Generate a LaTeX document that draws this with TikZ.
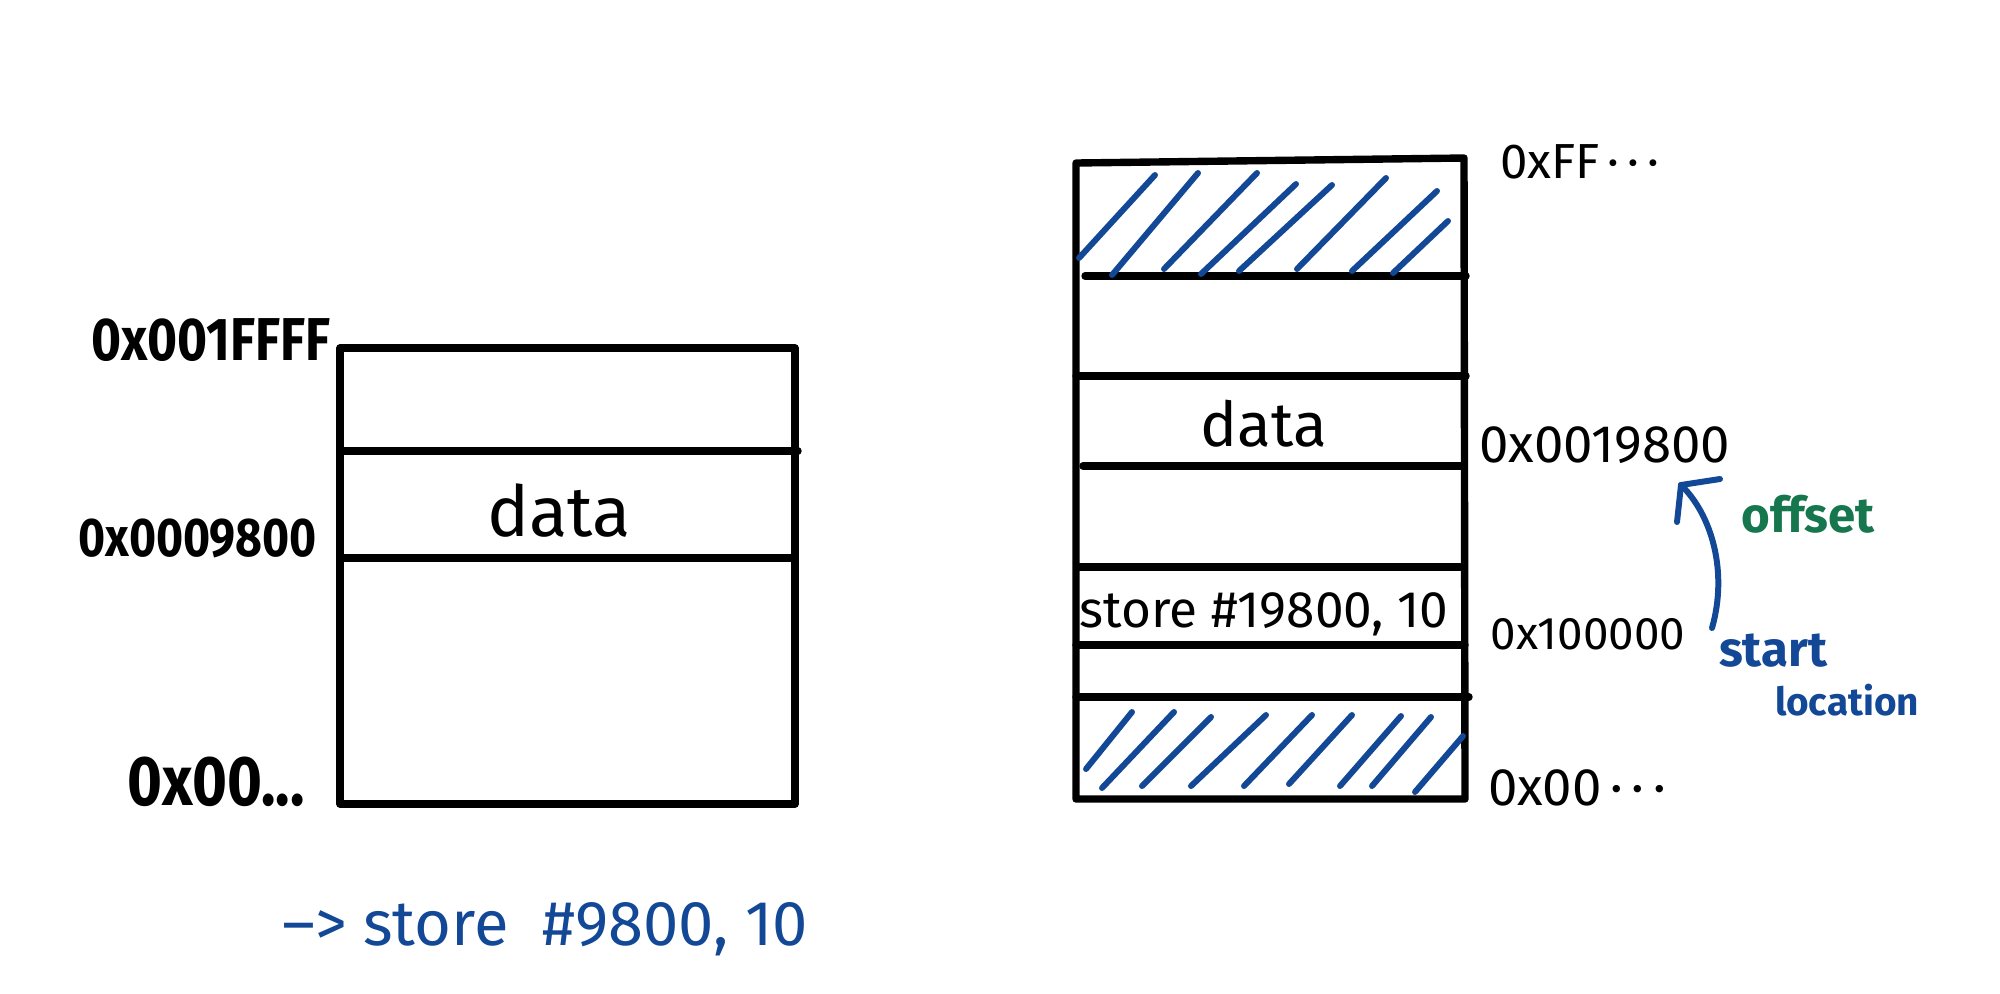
\documentclass[tikz,border=0pt]{standalone}
\usepackage{fontspec}
\setmainfont{Fira Sans}
\newfontfamily\hand{Fira Sans}
\newfontfamily\handn[FakeStretch=0.85]{Fira Sans}
\definecolor{inkblue}{RGB}{18,72,150}
\definecolor{inkgreen}{RGB}{22,118,78}
\begin{document}
\begin{tikzpicture}[x=0.01cm,y=-0.01cm,
  box/.style={line width=2.1pt, line cap=round, line join=round},
  hatch/.style={draw=inkblue, line width=1.7pt, line cap=round},
  lbl/.style={inner sep=0pt, outer sep=0pt},
  fs/.style={font=\hand\fontsize{#1}{#1}\selectfont},
  fsb/.style={font=\handn\bfseries\fontsize{#1}{#1}\selectfont},
  fbb/.style={font=\hand\bfseries\fontsize{#1}{#1}\selectfont}]
\useasboundingbox[fill=white] (0,0) rectangle (2000,993);

% ---- left memory ----
\draw[box] (340,348) rectangle (795,804);
\draw[box] (340,451) -- (798,451);
\draw[box] (340,558) -- (792,558);
\node[lbl, fs=20] (ldata) at (559,511) {data};
\node[lbl, fsb=17.2] (l1) at (211,340) {0x001FFFF};
\node[lbl, fsb=15.5] (l2) at (198,538) {0x0009800};
\node[lbl, fsb=20] (l3) at (216,782) {0x00...};
\node[lbl, fs=18, text=inkblue] (cmd) at (545,929) {\textendash{}> store \ \#9800, 10};

% ---- right memory ----
\draw[box] (1076,163) -- (1464,158) -- (1465,799) -- (1076,799) -- cycle;
\draw[box] (1085,276) -- (1466,276);
\draw[box] (1076,376) -- (1466,376);
\draw[box] (1083,466) -- (1461,466);
\draw[box] (1079,567) -- (1460,567);
\draw[box] (1076,645) -- (1465,645);
\draw[box] (1076,697) -- (1469,697);

% top hatch
\draw[hatch] (1079,258) -- (1155,175);
\draw[hatch] (1112,275) -- (1198,173);
\draw[hatch] (1164,269) -- (1257,173);
\draw[hatch] (1201,274) -- (1296,184);
\draw[hatch] (1239,271) -- (1332,185);
\draw[hatch] (1297,269) -- (1386,178);
\draw[hatch] (1352,271) -- (1437,191);
\draw[hatch] (1393,273) -- (1448,221);
% bottom hatch
\draw[hatch] (1086,769) -- (1132,712);
\draw[hatch] (1102,788) -- (1174,712);
\draw[hatch] (1142,786) -- (1211,717);
\draw[hatch] (1191,786) -- (1266,715);
\draw[hatch] (1244,786) -- (1312,715);
\draw[hatch] (1289,784) -- (1352,715);
\draw[hatch] (1340,786) -- (1401,716);
\draw[hatch] (1372,786) -- (1431,717);
\draw[hatch] (1415,792) -- (1463,736);

\node[lbl, fs=17.6] (rdata) at (1264,424) {data};
\node[lbl, fs=14.6] (rstore) at (1264,614) {store \#19800, 10};

\node[lbl, fs=14] (r1) at (1580,162) {0xFF\,·\,·\,·};
\node[lbl, fs=15] (r2) at (1605,445) {0x0019800};
\node[lbl, fs=13] (r3) at (1588,634) {0x100000};
\node[lbl, fs=15] (r4) at (1577,788) {0x00\,·\,·\,·};

\node[lbl, fbb=14, text=inkgreen] (off) at (1808,514) {offset};
\node[lbl, fbb=14, text=inkblue] (st) at (1773,651) {start};
\node[lbl, fbb=11, text=inkblue] (loc) at (1847,700) {location};

% offset arrow
\coordinate (a0) at (1712,628);
\coordinate (a1) at (1681,485);
\draw[hatch] (a0) .. controls (1728,572) and (1712,515) .. (a1);
\draw[hatch] (a1) -- ++(39,-6);
\draw[hatch] (a1) -- ++(-4,37);
\end{tikzpicture}
\end{document}
